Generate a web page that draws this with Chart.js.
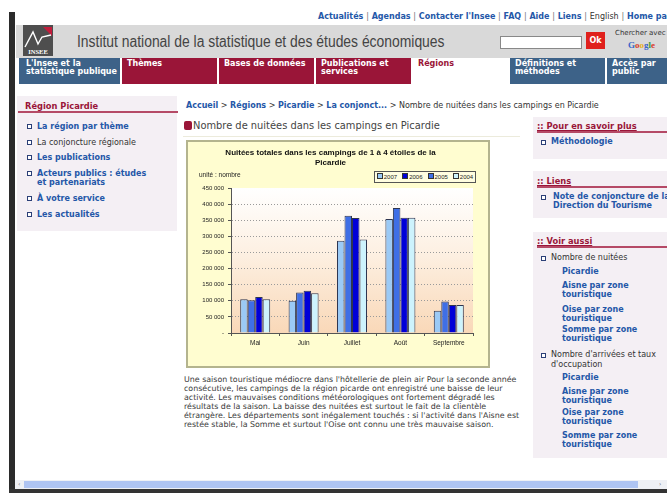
<!DOCTYPE html>
<html><head><meta charset="utf-8">
<script src="https://cdn.jsdelivr.net/npm/chart.js@4.4.0/dist/chart.umd.min.js"></script>
<style>
html,body{margin:0;padding:0;background:#fff;}
body{width:667px;height:493px;overflow:hidden;position:relative;font-family:"DejaVu Sans",Verdana,sans-serif;font-size:8px;color:#333;}
.a{position:absolute;white-space:nowrap;line-height:10px;height:10px;}
.b{font-weight:bold;color:#2457a8;}
.m{font-weight:bold;color:#9a1538;}
.tab{position:absolute;top:58px;height:26px;background:#3d6288;color:#fff;font-weight:bold;font-size:8px;line-height:8px;padding:2px 0 0 5px;box-sizing:border-box;white-space:nowrap;overflow:hidden;}
.tab.r{background:#9a1538;}
.tab.w{background:#fff;color:#9a1538;}
.blt{position:absolute;width:3px;height:3px;border:1px solid #2b3f77;background:#fff;}
.box{position:absolute;background:#f4eff4;}
.hl{position:absolute;height:2px;background:#b54a66;}
.p{position:absolute;left:184px;white-space:nowrap;font-size:7.9px;line-height:9px;height:9px;color:#3a3a3a;}
</style></head>
<body>
<!-- window edges -->
<div style="position:absolute;left:9px;top:12px;width:6px;height:481px;background:#2b2b2b"></div>
<div style="position:absolute;left:9px;top:489px;width:658px;height:4px;background:#333"></div>
<div style="position:absolute;left:15px;top:480px;width:652px;height:9px;background:#eef0f4"></div>
<div style="position:absolute;left:24px;top:481px;width:614px;height:7px;background:#aec4f2"></div>
<div class="a" style="left:18px;top:479px;font-size:6px;color:#556">&lsaquo;</div>
<div class="a" style="left:659px;top:479px;font-size:6px;color:#556">&rsaquo;</div>

<!-- top links -->
<div class="a b" style="left:318px;top:12px;">Actualités <span style="color:#777;font-weight:normal">|</span> Agendas <span style="color:#777;font-weight:normal">|</span> Contacter l'Insee <span style="color:#777;font-weight:normal">|</span> FAQ <span style="color:#777;font-weight:normal">|</span> Aide <span style="color:#777;font-weight:normal">|</span> Liens <span style="color:#777;font-weight:normal">|</span> <span style="font-weight:normal;color:#333">English</span> <span style="color:#777;font-weight:normal">|</span> Home page</div>

<!-- header -->
<div style="position:absolute;left:16px;top:25px;width:651px;height:33px;background:#d9d9d9"></div>
<svg style="position:absolute;left:23px;top:25px" width="30" height="31" viewBox="0 0 30 31">
<rect width="30" height="31" fill="#4e4e4e"/>
<polygon points="20,2 29,2 29,11" fill="#c21d3c"/>
<path d="M2 22 L10 7 L15 19 L19 12 L28 10" stroke="#fff" stroke-width="1.4" fill="none"/>
<text x="15" y="29" font-family="Liberation Serif,serif" font-size="6.5" font-weight="bold" fill="#fff" text-anchor="middle">INSEE</text>
</svg>
<div class="a" style="left:77px;top:33px;height:18px;line-height:18px;font-family:'Liberation Sans',Arial,sans-serif;font-size:16px;color:#444;transform:scaleX(0.868);transform-origin:0 0;">Institut national de la statistique et des études économiques</div>
<div style="position:absolute;left:500px;top:36px;width:80px;height:11px;background:#fff;border:1px solid #888"></div>
<div style="position:absolute;left:586px;top:32px;width:19px;height:17px;background:#e0201c;color:#fff;font-weight:bold;font-size:8px;line-height:17px;text-align:center">Ok</div>
<div class="a" style="left:615px;top:28px;font-size:7px;color:#333">Chercher avec</div>
<div class="a" style="left:628px;top:40px;font-size:9px;font-weight:bold;font-family:'Liberation Serif',serif"><span style="color:#3a66c8">G</span><span style="color:#d83a2a">o</span><span style="color:#e6b020">o</span><span style="color:#3a66c8">g</span><span style="color:#3a9a3a">l</span><span style="color:#d83a2a">e</span></div>

<!-- nav tabs -->
<div class="tab" style="left:19px;width:101px;padding-left:7px">L'Insee et la<br>statistique publique</div>
<div class="tab r" style="left:122px;width:95px">Thèmes</div>
<div class="tab r" style="left:219px;width:95px">Bases de données</div>
<div class="tab r" style="left:316px;width:95px">Publications et<br>services</div>
<div class="tab w" style="left:413px;width:95px">Régions</div>
<div class="tab" style="left:510px;width:95px">Définitions et<br>méthodes</div>
<div class="tab" style="left:607px;width:60px">Accès par<br>public</div>

<!-- left sidebar -->
<div class="box" style="left:17px;top:96px;width:160px;height:135px"></div>
<div class="a m" style="left:25px;top:101px;font-size:8.3px">Région Picardie</div>
<div class="hl" style="left:18px;top:111px;width:160px"></div>
<div class="blt" style="left:27px;top:124px"></div><div class="a b" style="left:37px;top:122px">La région par thème</div>
<div class="blt" style="left:27px;top:140px"></div><div class="a" style="left:37px;top:138px">La conjoncture régionale</div>
<div class="blt" style="left:27px;top:155px"></div><div class="a b" style="left:37px;top:153px">Les publications</div>
<div class="blt" style="left:27px;top:171px"></div><div class="a b" style="left:37px;top:169px">Acteurs publics : études</div>
<div class="a b" style="left:37px;top:178px">et partenariats</div>
<div class="blt" style="left:27px;top:196px"></div><div class="a b" style="left:37px;top:194px">À votre service</div>
<div class="blt" style="left:27px;top:212px"></div><div class="a b" style="left:37px;top:210px">Les actualités</div>

<!-- breadcrumb + title -->
<div class="a" style="left:186px;top:101px"><span class="b">Accueil</span> &gt; <span class="b">Régions</span> &gt; <span class="b">Picardie</span> &gt; <span class="b">La conjonct...</span> &gt; Nombre de nuitées dans les campings en Picardie</div>
<div style="position:absolute;left:184px;top:121px;width:8px;height:9px;background:#9a1538;border-radius:2px"></div>
<div class="a" style="left:193px;top:120px;height:12px;line-height:12px;font-size:9.9px;color:#444">Nombre de nuitées dans les campings en Picardie</div>
<div style="position:absolute;left:183px;top:136px;width:337px;height:1px;background:#ecebdc"></div>

<!-- chart -->
<div style="position:absolute;left:186px;top:140px;width:300px;height:224px;border:2px solid #b4b48e;background:#fffdd0">
  <canvas id="c" width="300" height="224" style="position:absolute;left:0;top:0"></canvas>
  <div class="a" style="left:11px;top:28px;font-family:'Liberation Sans',Arial,sans-serif;font-size:6.5px;color:#222">unité : nombre</div>
  <div id="lg" style="position:absolute;left:186px;top:29px;width:100px;height:10px;border:1px solid #555;background:#fffde0;font-family:'Liberation Sans',Arial,sans-serif;font-size:6px;line-height:10px;color:#222;white-space:nowrap;text-align:center"></div>
</div>

<!-- paragraph -->
<div class="p" style="top:375px">Une saison touristique médiocre dans l'hôtellerie de plein air Pour la seconde année</div>
<div class="p" style="top:384px">consécutive, les campings de la région picarde ont enregistré une baisse de leur</div>
<div class="p" style="top:393px">activité. Les mauvaises conditions météorologiques ont fortement dégradé les</div>
<div class="p" style="top:402px">résultats de la saison. La baisse des nuitées est surtout le fait de la clientèle</div>
<div class="p" style="top:411px">étrangère. Les départements sont inégalement touchés : si l'activité dans l'Aisne est</div>
<div class="p" style="top:420px">restée stable, la Somme et surtout l'Oise ont connu une très mauvaise saison.</div>

<!-- right sidebar -->
<div class="box" style="left:533px;top:117px;width:134px;height:42px"></div>
<div class="a m" style="left:537px;top:121px;font-size:8.3px;text-decoration:underline">:: Pour en savoir plus</div>
<div class="hl" style="left:537px;top:131px;width:130px"></div>
<div class="blt" style="left:541px;top:140px"></div><div class="a b" style="left:551px;top:137px">Méthodologie</div>

<div class="box" style="left:533px;top:171px;width:134px;height:47px"></div>
<div class="a m" style="left:537px;top:176px;font-size:8.3px;text-decoration:underline">:: Liens</div>
<div class="hl" style="left:537px;top:186px;width:130px"></div>
<div class="blt" style="left:541px;top:195px"></div><div class="a b" style="left:553px;top:192px">Note de conjoncture de la</div>
<div class="a b" style="left:553px;top:201px">Direction du Tourisme</div>

<div class="box" style="left:533px;top:232px;width:134px;height:226px"></div>
<div class="a m" style="left:537px;top:236px;font-size:8.3px;text-decoration:underline">:: Voir aussi</div>
<div class="hl" style="left:537px;top:246px;width:130px"></div>
<div class="blt" style="left:541px;top:256px"></div><div class="a" style="left:551px;top:253px">Nombre de nuitées</div>
<div class="a b" style="left:562px;top:267px">Picardie</div>
<div class="a b" style="left:562px;top:281px">Aisne par zone</div>
<div class="a b" style="left:562px;top:290px">touristique</div>
<div class="a b" style="left:562px;top:305px">Oise par zone</div>
<div class="a b" style="left:562px;top:314px">touristique</div>
<div class="a b" style="left:562px;top:325px">Somme par zone</div>
<div class="a b" style="left:562px;top:334px">touristique</div>
<div class="blt" style="left:541px;top:353px"></div><div class="a" style="left:551px;top:350px">Nombre d'arrivées et taux</div>
<div class="a" style="left:551px;top:360px">d'occupation</div>
<div class="a b" style="left:562px;top:373px">Picardie</div>
<div class="a b" style="left:562px;top:387px">Aisne par zone</div>
<div class="a b" style="left:562px;top:396px">touristique</div>
<div class="a b" style="left:562px;top:408px">Oise par zone</div>
<div class="a b" style="left:562px;top:417px">touristique</div>
<div class="a b" style="left:562px;top:431px">Somme par zone</div>
<div class="a b" style="left:562px;top:440px">touristique</div>

<script>
// ---- data ----
const categories = ['Mai', 'Juin', 'Juillet', 'Août', 'Septembre'];
const seriesNames = ['2007', '2006', '2005', '2004'];
const values2007 = [105000, 100000, 286000, 354000, 69000];
const values2006 = [111500, 131500, 357000, 358000, 87000];
const values2005 = [102000, 126000, 364000, 388000, 98000];
const values2004 = [105000, 123000, 290000, 358000, 87000];
const yTickValues = [0, 50000, 100000, 150000, 200000, 250000, 300000, 350000, 400000, 450000];
const yTickLabels = ['-', '50 000', '100 000', '150 000', '200 000', '250 000', '300 000', '350 000', '400 000', '450 000'];
const chartTitle = ['Nuitées totales dans les campings de 1 à 4 étoiles de la', 'Picardie'];

const seriesValues = [values2007, values2006, values2005, values2004];
const seriesColors = ['#9bcaf6', '#0000d8', '#3f6fe6', '#cdf3fd'];
// bar position inside each group (as in the original: 2007, 2005, 2006, 2004)
const seriesOrder = [0, 2, 1, 3];

const plotBg = {
  id: 'plotBg',
  beforeDraw(chart) {
    const {ctx, chartArea: a} = chart;
    const g = ctx.createLinearGradient(0, a.top, 0, a.bottom);
    g.addColorStop(0, '#ffffff');
    g.addColorStop(0.45, '#fdf0e2');
    g.addColorStop(1, '#f9d8b8');
    ctx.save();
    ctx.fillStyle = g;
    ctx.fillRect(a.left, a.top, a.right - a.left, a.bottom - a.top);
    ctx.restore();
  }
};

const chart = new Chart(document.getElementById('c'), {
  type: 'bar',
  data: {
    labels: categories,
    datasets: seriesNames.map((n, i) => ({
      label: n,
      data: seriesValues[i],
      order: seriesOrder[i],
      backgroundColor: seriesColors[i],
      borderColor: '#2e3550',
      borderWidth: 1,
      categoryPercentage: 0.62,
      barPercentage: 1
    }))
  },
  options: {
    responsive: false,
    animation: false,
    devicePixelRatio: 1,
    layout: {padding: {left: 0, right: 15, top: 0, bottom: 0}},
    plugins: {
      legend: {display: false},
      tooltip: {enabled: false},
      title: {
        display: true,
        text: chartTitle,
        color: '#111',
        font: {family: "'Liberation Sans', Arial, sans-serif", size: 8, weight: 'bold', lineHeight: 1.25},
        padding: {top: 6, bottom: 20}
      }
    },
    scales: {
      x: {
        afterFit(s) { s.height = 33; },
        grid: {display: true, drawOnChartArea: false, offset: true, tickLength: 3, tickColor: '#555'},
        border: {display: true, color: '#555', width: 1},
        ticks: {color: '#222', font: {family: "'Liberation Sans', Arial, sans-serif", size: 6.5}, padding: 3}
      },
      y: {
        min: 0, max: 450000,
        afterFit(s) { s.width = 43; },
        afterBuildTicks(s) { s.ticks = yTickValues.map(v => ({value: v})); },
        grid: {
          color: c => (c.tick && (c.tick.value === 0 || c.tick.value === 450000)) ? 'rgba(0,0,0,0)' : '#9a9a9a',
          tickColor: '#555', tickLength: 3, tickBorderDash: [], lineWidth: 1
        },
        border: {display: true, color: '#555', width: 1, dash: [1, 2]},
        ticks: {
          color: '#222', padding: 4,
          font: {family: "'Liberation Sans', Arial, sans-serif", size: 6},
          callback: (v) => yTickLabels[yTickValues.indexOf(v)]
        }
      }
    }
  },
  plugins: [plotBg]
});

// HTML legend built from the chart's legend items, in series order
const lg = document.getElementById('lg');
chart.options.plugins.legend.labels.generateLabels(chart)
  .sort((p, q) => p.datasetIndex - q.datasetIndex)
  .forEach((it, i) => {
    const s = document.createElement('span');
    s.style.marginRight = i < 3 ? '5px' : '0';
    s.innerHTML = '<span style="display:inline-block;width:4px;height:4px;border:0.5px solid #333;background:' + it.fillStyle + ';margin-right:1px;vertical-align:0px"></span>' + it.text;
    lg.appendChild(s);
  });
</script>
</body></html>
